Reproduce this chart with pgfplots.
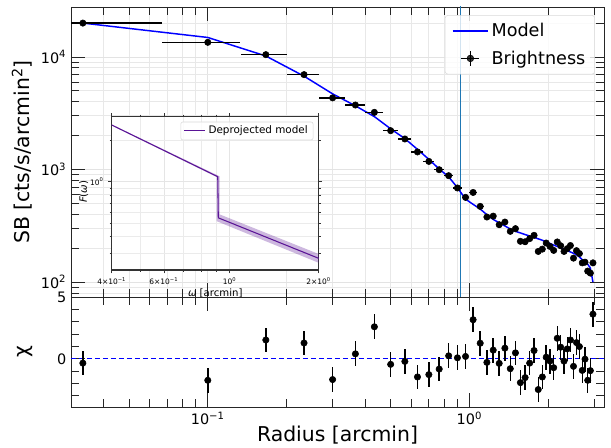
\documentclass[border=0pt]{standalone}
\usepackage{fontspec}
\setmainfont{DejaVu Sans}
\usepackage{pgfplots}
\usepackage{pgfplotstable}
\pgfplotsset{compat=1.18}
\definecolor{mplblue}{HTML}{1F77B4}
\definecolor{deproj}{RGB}{90,20,150}

% surface brightness profile, residuals and model
\pgfplotstableread{
r      sb     exm    exp    ey   chi    model
0.0333 20000  0.0033 0.0333 500  -0.35  20000
0.1000 13490  0.0333 0.0333 340  -1.74  14900
0.1667 10480  0.0333 0.0333 260   1.52  10200
0.2333 6966   0.0333 0.0333 175   1.28  6750
0.3000 4330   0.0333 0.0333 110  -1.68  4700
0.3667 3740   0.0333 0.0333 95    0.40  3680
0.4333 3220   0.0333 0.0333 80    2.59  2950
0.5000 2213   0.0333 0.0333 75   -0.45  2300
0.5667 1866   0.0333 0.0333 65   -0.21  1880
0.6333 1432   0.0333 0.0333 50   -1.47  1510
0.7000 1180   0.0333 0.0333 42   -1.28  1230
0.7667 995    0.0333 0.0333 35   -0.83  1010
0.8333 881    0.0333 0.0333 31    0.24  860
0.9000 685    0.0333 0.0333 24    0.08  690
0.9667 565    0.0333 0.0333 20    0.19  545
1.0333 625    0.0333 0.0333 22    3.16  490
1.1000 470    0.0333 0.0333 17    1.26  445
1.1667 378    0.0333 0.0333 14   -0.29  396
1.2333 385    0.0333 0.0333 21    0.70  360
1.3000 323    0.0333 0.0333 18   -0.37  336
1.3667 341    0.0333 0.0333 19    0.86  315
1.4333 282    0.0333 0.0333 16   -0.80  296
1.5000 298    0.0333 0.0333 16    0.48  282
1.5667 230    0.0333 0.0333 13   -1.93  273
1.6333 228    0.0333 0.0333 13   -1.52  264
1.7000 243    0.0333 0.0333 13   -0.35  256
1.7667 260    0.0333 0.0333 14    0.67  249
1.8333 187    0.0333 0.0333 10   -2.49  242
1.9000 196    0.0333 0.0333 11   -1.47  235
1.9667 222    0.0333 0.0333 12    0.13  228
2.0333 207    0.0333 0.0333 11   -0.19  220
2.1000 191    0.0333 0.0333 11   -0.72  213
2.1667 227    0.0333 0.0333 12    1.66  207
2.2333 210    0.0333 0.0333 12    0.94  201
2.3000 187    0.0333 0.0333 10   -0.19  195
2.3667 198    0.0333 0.0333 11    0.80  190
2.4333 211    0.0333 0.0333 12    1.52  185
2.5000 163    0.0333 0.0333 9    -0.61  180
2.5667 190    0.0333 0.0333 10    1.31  175
2.6333 179    0.0333 0.0333 10    0.99  167
2.7000 148    0.0333 0.0333 8    -0.94  158
2.7667 150    0.0333 0.0333 8    -0.03  151
2.8333 125    0.0333 0.0333 7    -1.74  144
2.9000 120    0.0333 0.0333 7    -0.96  133
2.9667 148    0.0333 0.0333 8     3.61  100
}\sbdata

% deprojected model (inset)
\pgfplotstableread{
w     f
0.4   2.59
0.912 1.088
0.916 0.545
2.0   0.276
}\deprojline

\pgfplotstableread{
w     f
0.4   2.61
0.925 1.095
0.925 0.578
2.0   0.297
2.0   0.256
0.905 0.515
0.905 1.080
0.4   2.57
}\deprojband

\pgfplotsset{
  mpl/.style={
    scale only axis,
    tick align=inside,
    major tick length=10.5pt,
    minor tick length=5.8pt,
    every tick/.style={black!85, line width=0.6pt},
    axis line style={black!85, line width=0.6pt},
    tick label style={font=\fontsize{10.8}{13}\selectfont},
  },
}

\begin{document}
\begin{tikzpicture}
\useasboundingbox (0,0) rectangle (458.25pt,-336pt);

% upper panel
\begin{axis}[mpl,
  at={(53.25pt,-5.25pt)}, anchor=north west,
  width=399.75pt, height=217.5pt,
  xmode=log, ymode=log,
  xmin=0.03, xmax=3.27, ymin=73.6, ymax=27800,
  xtick={0.1,1}, xticklabels={},
  minor xtick={0.03,0.04,0.05,0.06,0.07,0.08,0.09,0.2,0.3,0.4,0.5,0.6,0.7,0.8,0.9,2,3},
  ytick={100,1000,10000},
  yticklabels={10\textsuperscript{2},10\textsuperscript{3},10\textsuperscript{4}},
  minor ytick={80,90,200,300,400,500,600,700,800,900,2000,3000,4000,5000,6000,7000,8000,9000,20000},
  grid=both,
  major grid style={gray!22, line width=0.6pt},
  minor grid style={gray!18, line width=0.6pt},
  ylabel={SB [cts/s/arcmin\textsuperscript{2}]},
  ylabel style={at={(axis description cs:-0.092,0.5)}, anchor=center, font=\fontsize{15.3}{18}\selectfont},
  legend style={at={(axis description cs:0.983,0.972)}, anchor=north east,
    draw=black!15, rounded corners=2pt, fill=white, fill opacity=0.8, text opacity=1,
    font=\fontsize{13.2}{15}\selectfont, row sep=5pt, inner xsep=5pt, inner ysep=4pt,
    cells={anchor=west}},
]
\addplot[mplblue, line width=1pt, forget plot] coordinates {(0.924,50) (0.924,40000)};
\addplot[blue, line width=1.1pt, forget plot] table[x=r, y=model] {\sbdata};
\addplot[black, only marks, mark=*, mark size=2.4pt, forget plot,
  error bars/.cd, x dir=both, x explicit, y dir=both, y explicit,
  error mark=none, error bar style={line width=1.1pt}]
  table[x=r, y=sb, x error minus=exm, x error plus=exp, y error=ey] {\sbdata};
\addlegendimage{legend image code/.code={\draw[blue, line width=1.1pt] (0pt,0pt) -- (26.7pt,0pt);}}
\addlegendentry{Model}
\addlegendimage{legend image code/.code={
  \draw[black, line width=1.1pt] (6.6pt,0pt) -- (20.1pt,0pt);
  \draw[black, line width=1.1pt] (13.35pt,-5.6pt) -- (13.35pt,5.6pt);
  \fill[black] (13.35pt,0pt) circle (2.5pt);}}
\addlegendentry{Brightness}
\end{axis}

% inset
\begin{axis}[
  scale only axis,
  at={(83.8pt,-87.5pt)}, anchor=north west,
  width=155.25pt, height=115pt,
  xmode=log, ymode=log,
  xmin=0.4, xmax=2, ymin=0.227, ymax=2.98,
  axis background/.style={fill=white},
  axis line style={black!80, line width=0.9pt},
  tick align=outside, major tick length=2.5pt, minor tick length=1.5pt,
  every tick/.style={black!80, line width=0.4pt},
  xtick={0.4,0.6,1,2},
  xticklabels={4×10\textsuperscript{−1},6×10\textsuperscript{−1},10\textsuperscript{0},2×10\textsuperscript{0}},
  minor xtick={0.5,0.7,0.8,0.9},
  ytick={1}, yticklabels={10\textsuperscript{0}},
  minor ytick={0.3,0.4,0.5,0.6,0.7,0.8,0.9,2},
  grid=both,
  major grid style={gray!20, line width=0.5pt},
  minor grid style={gray!16, line width=0.5pt},
  tick label style={font=\fontsize{5.6}{6.5}\selectfont},
  xticklabel style={yshift=0.5pt},
  xlabel={\textit{ω} [arcmin]},
  xlabel style={at={(axis description cs:0.5,-0.15)}, anchor=center, font=\fontsize{7.6}{9}\selectfont},
  ylabel={\textit{F}(\textit{ω})},
  ylabel style={at={(axis description cs:-0.135,0.51)}, anchor=center, font=\fontsize{7.6}{9}\selectfont},
  legend style={at={(axis description cs:0.974,0.967)}, anchor=north east,
    draw=black!15, rounded corners=1.5pt, fill=white, fill opacity=0.8, text opacity=1,
    font=\fontsize{7.8}{9}\selectfont, inner xsep=2pt, inner ysep=1pt},
  legend image code/.code={\draw[#1] (0pt,0pt) -- (16pt,0pt);},
]
\addplot[draw=none, fill=deproj, fill opacity=0.3, forget plot] table[x=w, y=f] {\deprojband} -- cycle;
\addplot[deproj, line width=0.8pt] table[x=w, y=f] {\deprojline};
\addlegendentry{Deprojected model}
\end{axis}

% residual panel
\begin{axis}[mpl,
  at={(53.25pt,-222.75pt)}, anchor=north west,
  width=399.75pt, height=82.5pt,
  xmode=log,
  xmin=0.03, xmax=3.27, ymin=-3.9, ymax=5,
  axis background/.style={fill=white},
  xtick={0.1,1}, xticklabels={10\textsuperscript{−1},10\textsuperscript{0}},
  minor xtick={0.03,0.04,0.05,0.06,0.07,0.08,0.09,0.2,0.3,0.4,0.5,0.6,0.7,0.8,0.9,2,3},
  ytick={0,5}, yticklabels={0,5},
  minor ytick={-3,-2,-1,1,2,3,4},
  xlabel={Radius [arcmin]},
  xlabel style={at={(axis description cs:0.5,-0.255)}, anchor=center, font=\fontsize{15.3}{18}\selectfont},
  ylabel={χ},
  ylabel style={at={(axis description cs:-0.086,0.5)}, anchor=center, font=\fontsize{15.3}{18}\selectfont},
]
\addplot[blue, dashed, line width=1pt, dash pattern=on 4pt off 2pt] coordinates {(0.03,0) (3.27,0)};
\addplot[black, only marks, mark=*, mark size=2.4pt,
  error bars/.cd, y dir=both, y fixed=1,
  error mark=none, error bar style={line width=1.1pt}]
  table[x=r, y=chi] {\sbdata};
\end{axis}
\end{tikzpicture}
\end{document}
